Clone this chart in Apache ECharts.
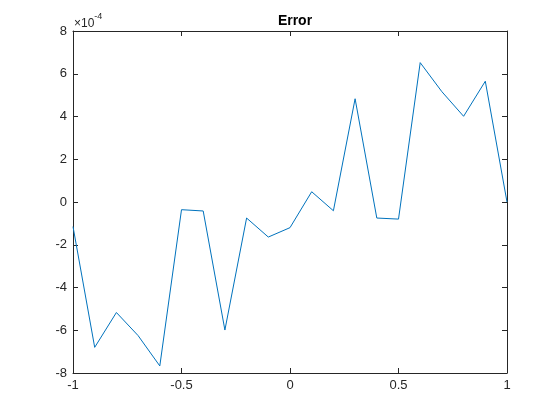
<!DOCTYPE html>
<html><head><meta charset="utf-8">
<script src="https://cdn.jsdelivr.net/npm/echarts@6/dist/echarts.min.js"></script>
<style>html,body{margin:0;padding:0;background:#fff}#c{width:560px;height:420px}</style>
</head><body><div id="c"></div>
<script>
var xValues = [-1, -0.9, -0.8, -0.7, -0.6, -0.5, -0.4, -0.3, -0.2, -0.1, 0, 0.1, 0.2, 0.3, 0.4, 0.5, 0.6, 0.7, 0.8, 0.9, 1];
var errorValues = [-1.15e-4, -6.8e-4, -5.17e-4, -6.25e-4, -7.67e-4, -0.36e-4, -0.42e-4, -5.99e-4, -0.75e-4, -1.64e-4, -1.2e-4, 0.48e-4, -0.41e-4, 4.83e-4, -0.75e-4, -0.8e-4, 6.52e-4, 5.16e-4, 4.01e-4, 5.65e-4, 0.0e-4];
var xTicks = [-1, -0.5, 0, 0.5, 1];
var yTicksE4 = [-8, -6, -4, -2, 0, 2, 4, 6, 8];
var titleText = 'Error';

var font = 'Liberation Sans, Arial, Helvetica, sans-serif';
var axisColor = '#262626';
var pts = xValues.map(function (x, i) { return [x, errorValues[i]]; });

function xAxisCfg(pos, showLabel) {
  return {
    type: 'value', position: pos, min: -1, max: 1, interval: 0.5,
    axisLine: { show: true, onZero: false, lineStyle: { color: axisColor, width: 1 } },
    axisTick: { show: true, inside: true, length: 5, lineStyle: { color: axisColor } },
    axisLabel: { show: showLabel, color: axisColor, fontFamily: font, fontSize: 13, margin: 6,
      formatter: function (v) { return String(Math.round(v * 10) / 10); } },
    splitLine: { show: false }
  };
}
function yAxisCfg(pos, showLabel) {
  return {
    type: 'value', position: pos, min: -8e-4, max: 8e-4, interval: 2e-4,
    axisLine: { show: true, onZero: false, lineStyle: { color: axisColor, width: 1 } },
    axisTick: { show: true, inside: true, length: 5, lineStyle: { color: axisColor } },
    axisLabel: { show: showLabel, color: axisColor, fontFamily: font, fontSize: 13, margin: 6,
      formatter: function (v) { return String(Math.round(v * 1e4)); } },
    splitLine: { show: false }
  };
}

var chart = echarts.init(document.getElementById('c'), null, { renderer: 'canvas' });
chart.setOption({
  backgroundColor: '#fff',
  animation: false,
  title: {
    text: titleText, left: 290, top: 9, textAlign: 'center',
    textStyle: { fontFamily: font, fontSize: 14, fontWeight: 'bold', color: '#000' }
  },
  grid: { left: 73, right: 53, top: 31, bottom: 47, containLabel: false },
  xAxis: [xAxisCfg('bottom', true), xAxisCfg('top', false)],
  yAxis: [yAxisCfg('left', true), yAxisCfg('right', false)],
  graphic: [{
    type: 'text', left: 74, top: 12,
    style: {
      text: '{a|×10}{b|-4}', fill: axisColor,
      rich: {
        a: { fontFamily: font, fontSize: 12, color: axisColor, padding: [6, 0, 0, 0] },
        b: { fontFamily: font, fontSize: 9, color: axisColor, verticalAlign: 'top' }
      }
    }
  }],
  series: [{
    type: 'line', data: pts, xAxisIndex: 0, yAxisIndex: 0,
    showSymbol: false, symbol: 'none',
    lineStyle: { color: '#0072BD', width: 1 }
  }]
});
</script></body></html>
